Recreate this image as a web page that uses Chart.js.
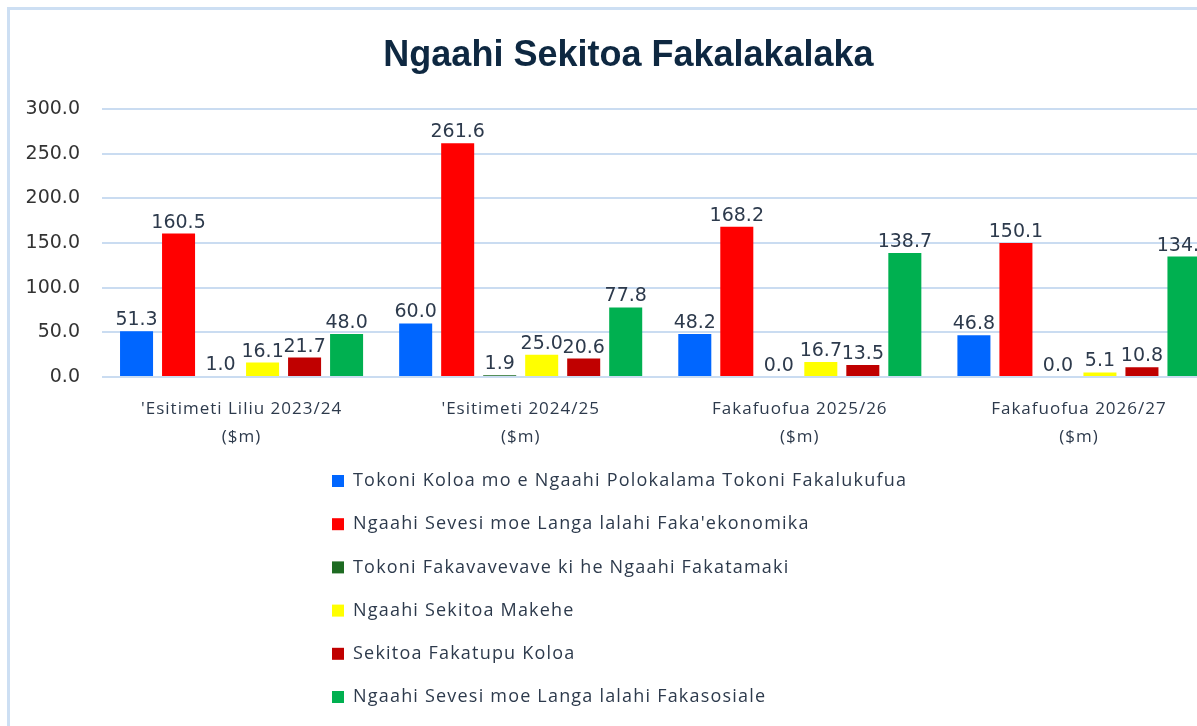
<!DOCTYPE html>
<html>
<head>
<meta charset="utf-8">
<title>Ngaahi Sekitoa Fakalakalaka</title>
<script src="https://cdn.jsdelivr.net/npm/chart.js@4.4.1/dist/chart.umd.min.js"></script>
<style>
  html, body { margin: 0; padding: 0; background: #fff; overflow: hidden; }
  #frame {
    position: absolute; left: 7px; top: 7px; width: 1260px; height: 740px;
    border-left: 3px solid #cddff3; border-top: 3px solid #cddff3;
  }
  #wrap { position: absolute; left: 10px; top: 10px; width: 1237px; height: 716px; }
</style>
</head>
<body>
<div id="frame"></div>
<div id="wrap"><canvas id="sectorChart"></canvas></div>
<script>
// Categories (two-line axis labels) and series
const categories = ["'Esitimeti Liliu 2023/24", "'Esitimeti 2024/25", "Fakafuofua 2025/26", "Fakafuofua 2026/27"];
const unitLine = "($m)";
const seriesNames = [
  "Tokoni Koloa mo e Ngaahi Polokalama Tokoni Fakalukufua",
  "Ngaahi Sevesi moe Langa lalahi Faka'ekonomika",
  "Tokoni Fakavavevave ki he Ngaahi Fakatamaki",
  "Ngaahi Sekitoa Makehe",
  "Sekitoa Fakatupu Koloa",
  "Ngaahi Sevesi moe Langa lalahi Fakasosiale"
];
const seriesColors = ['#0066ff', '#ff0000', '#1e6b22', '#ffff00', '#c00000', '#00b050'];

const tokoniKoloa   = [51.3, 60.0, 48.2, 46.8];
const fakaekonomika = [160.5, 261.6, 168.2, 150.1];
const fakatamaki    = [1.0, 1.9, 0.0, 0.0];
const makehe        = [16.1, 25.0, 16.7, 5.1];
const fakatupuKoloa = [21.7, 20.6, 13.5, 10.8];
const fakasosiale   = [48.0, 77.8, 138.7, 134.8];

const yTicks = [0, 50, 100, 150, 200, 250, 300];

const seriesValues = [tokoniKoloa, fakaekonomika, fakatamaki, makehe, fakatupuKoloa, fakasosiale];

const TEXT_DARK = '#2d3a4c';
const NUM_FONT = 'DejaVu Sans';

// numbers use normal spacing; the word labels (x ticks, legend) are set a bit wide
const textSpacing = {
  id: 'textSpacing',
  beforeDraw(chart) { chart.ctx.letterSpacing = '0px'; }
};

// value labels above every bar
const barValueLabels = {
  id: 'barValueLabels',
  afterDatasetsDraw(chart) {
    const ctx = chart.ctx;
    ctx.save();
    ctx.font = `19px "${NUM_FONT}"`;
    ctx.fillStyle = TEXT_DARK;
    ctx.textAlign = 'center';
    ctx.textBaseline = 'alphabetic';
    chart.data.datasets.forEach((ds, i) => {
      chart.getDatasetMeta(i).data.forEach((bar, j) => {
        ctx.fillText(ds.data[j].toFixed(1), bar.x, bar.y - 6);
      });
    });
    ctx.restore();
    // x tick labels (z: 1) are drawn after this point
    ctx.letterSpacing = '1px';
  }
};

// title + one-column legend under the axis
const titleAndLegend = {
  id: 'titleAndLegend',
  afterDraw(chart) {
    const ctx = chart.ctx;
    ctx.save();
    ctx.letterSpacing = '0px';
    ctx.font = 'bold 36px "Liberation Sans"';
    ctx.fillStyle = '#0e2841';
    ctx.textAlign = 'center';
    ctx.textBaseline = 'middle';
    ctx.fillText('Ngaahi Sekitoa Fakalakalaka', chart.width / 2, 46);

    ctx.letterSpacing = '1.2px';
    ctx.font = '18px "Open Sans"';
    ctx.textAlign = 'left';
    chart.data.datasets.forEach((ds, i) => {
      const y = 471 + i * 43.2;
      ctx.fillStyle = ds.backgroundColor;
      ctx.fillRect(322, y - 6, 12, 12);
      ctx.fillStyle = TEXT_DARK;
      ctx.fillText(ds.label, 343, y);
    });
    ctx.restore();
  }
};

const chart = new Chart(document.getElementById('sectorChart'), {
  type: 'bar',
  data: {
    labels: categories.map(c => [c, unitLine]),
    datasets: seriesNames.map((name, i) => ({
      label: name,
      data: seriesValues[i],
      backgroundColor: seriesColors[i],
      borderWidth: 0,
      categoryPercentage: 0.903,
      barPercentage: 0.786
    }))
  },
  options: {
    responsive: true,
    maintainAspectRatio: false,
    animation: false,
    layout: { padding: { top: 99, right: 28.5, bottom: 269, left: 0 } },
    plugins: {
      legend: { display: false },
      title: { display: false },
      tooltip: { enabled: false }
    },
    scales: {
      x: {
        grid: { display: false },
        border: { display: false },
        ticks: {
          z: 1,
          color: TEXT_DARK,
          font: { family: 'Open Sans', size: 17, lineHeight: 1.6 },
          padding: 11,
          maxRotation: 0,
          autoSkip: false
        },
        afterFit(scale) { scale.height = 80; }
      },
      y: {
        min: 0,
        max: 300,
        afterBuildTicks(scale) { scale.ticks = yTicks.map(v => ({ value: v })); },
        grid: { color: '#cadcf1', lineWidth: 2, drawTicks: false },
        border: { display: false },
        ticks: {
          color: '#333333',
          font: { family: NUM_FONT, size: 19 },
          padding: 22,
          callback: v => v.toFixed(1)
        },
        afterFit(scale) { scale.width = 92; }
      }
    }
  },
  plugins: [textSpacing, barValueLabels, titleAndLegend]
});
</script>
</body>
</html>
